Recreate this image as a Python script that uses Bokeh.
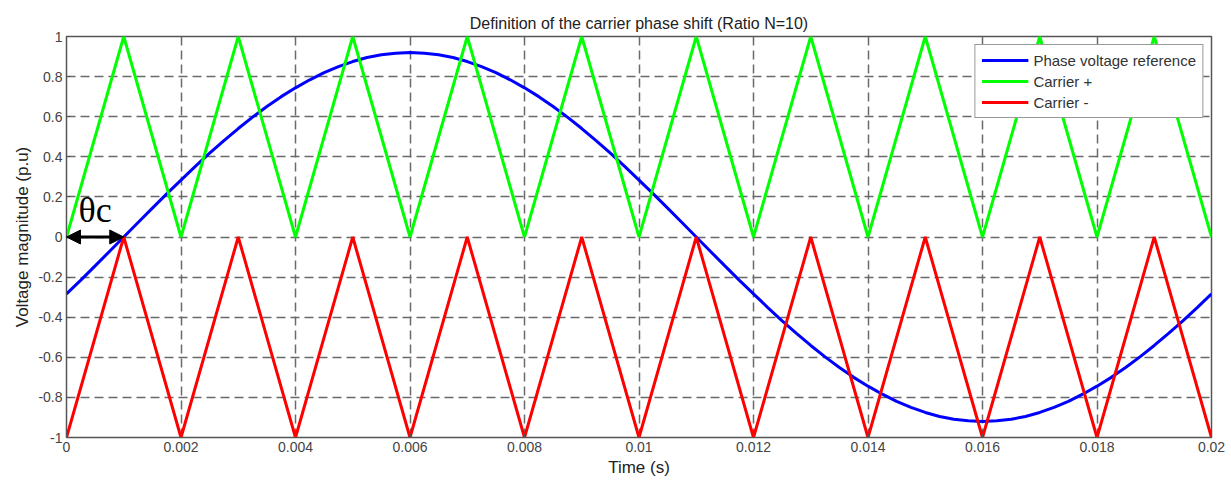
from bokeh.plotting import figure
from bokeh.models import FixedTicker, Legend, LegendItem, Arrow, NormalHead, Label
from bokeh.embed import file_html
from bokeh.resources import INLINE

# ---- data ----
t_ref = [i * 0.00025 for i in range(81)]
v_ref = [-0.284, -0.215, -0.144, -0.072,
         0.0, 0.072, 0.144, 0.215, 0.284, 0.352, 0.418, 0.481, 0.541, 0.598, 0.651,
         0.700, 0.744, 0.784, 0.820, 0.850, 0.875, 0.895, 0.909, 0.917, 0.920,
         0.917, 0.909, 0.895, 0.875, 0.850, 0.820, 0.784, 0.744, 0.700, 0.651,
         0.598, 0.541, 0.481, 0.418, 0.352, 0.284, 0.215, 0.144, 0.072, 0.0,
         -0.072, -0.144, -0.215, -0.284, -0.352, -0.418, -0.481, -0.541, -0.598, -0.651,
         -0.700, -0.744, -0.784, -0.820, -0.850, -0.875, -0.895, -0.909, -0.917, -0.920,
         -0.917, -0.909, -0.895, -0.875, -0.850, -0.820, -0.784, -0.744, -0.700, -0.651,
         -0.598, -0.541, -0.481, -0.418, -0.352, -0.284]
t_car = [0.0, 0.001, 0.002, 0.003, 0.004, 0.005, 0.006, 0.007, 0.008, 0.009, 0.010,
         0.011, 0.012, 0.013, 0.014, 0.015, 0.016, 0.017, 0.018, 0.019, 0.020]
carrier_pos = [0, 1, 0, 1, 0, 1, 0, 1, 0, 1, 0, 1, 0, 1, 0, 1, 0, 1, 0, 1, 0]
carrier_neg = [-1, 0, -1, 0, -1, 0, -1, 0, -1, 0, -1, 0, -1, 0, -1, 0, -1, 0, -1, 0, -1]

x_ticks = [0, 0.002, 0.004, 0.006, 0.008, 0.01, 0.012, 0.014, 0.016, 0.018, 0.02]
x_labels = ["0", "0.002", "0.004", "0.006", "0.008", "0.01", "0.012", "0.014", "0.016", "0.018", "0.02"]
y_ticks = [-1, -0.8, -0.6, -0.4, -0.2, 0, 0.2, 0.4, 0.6, 0.8, 1]
y_labels = ["-1", "-0.8", "-0.6", "-0.4", "-0.2", "0", "0.2", "0.4", "0.6", "0.8", "1"]
series_names = ["Phase voltage reference", "Carrier +", "Carrier -"]
theta_start, theta_end = 0.0, 0.001

FONT = "Liberation Sans"

p = figure(width=1231, height=484, x_range=(0, 0.02), y_range=(-1, 1),
           output_backend="svg", toolbar_location=None,
           min_border_left=66, min_border_right=20, min_border_top=36, min_border_bottom=47,
           title="Definition of the carrier phase shift (Ratio N=10)")
p.title.align = "center"
p.title.text_font = FONT
p.title.text_font_size = "16px"
p.title.text_font_style = "normal"
p.title.text_color = "#222222"
p.title.offset = 0

p.outline_line_color = "#555555"
p.outline_line_width = 1.5

for ax, ticks, labels in ((p.xaxis[0], x_ticks, x_labels), (p.yaxis[0], y_ticks, y_labels)):
    ax.ticker = FixedTicker(ticks=ticks)
    ax.major_label_overrides = {tk: lb for tk, lb in zip(ticks, labels)}
    ax.major_label_text_font = FONT
    ax.major_label_text_font_size = "14px"
    ax.major_label_text_color = "#444444"
    ax.axis_label_text_font = FONT
    ax.axis_label_text_font_size = "17px"
    ax.axis_label_text_font_style = "normal"
    ax.axis_label_text_color = "#222222"
    ax.axis_line_color = "#555555"
    ax.major_tick_in = 4
    ax.major_tick_out = 0
    ax.minor_tick_line_color = None
    ax.major_tick_line_color = "#555555"
    ax.major_label_standoff = 4
    ax.axis_label_standoff = 3

p.xaxis.axis_label = "Time (s)"
p.yaxis.axis_label = "Voltage magnitude (p.u)"

p.xgrid[0].ticker = FixedTicker(ticks=x_ticks)
p.ygrid[0].ticker = FixedTicker(ticks=y_ticks)
for g in (p.xgrid[0], p.ygrid[0]):
    g.grid_line_color = "#6a6a6a"
    g.grid_line_dash = "9 5"
    g.grid_line_width = 1.5

r_ref = p.line(t_ref, v_ref, line_color="#0000FF", line_width=3)
r_pos = p.line(t_car, carrier_pos, line_color="#00FF00", line_width=3)
r_neg = p.line(t_car, carrier_neg, line_color="#FF0000", line_width=3)

legend = Legend(items=[LegendItem(label=series_names[0], renderers=[r_ref]),
                       LegendItem(label=series_names[1], renderers=[r_pos]),
                       LegendItem(label=series_names[2], renderers=[r_neg])],
                location="top_right")
legend.label_text_font = FONT
legend.label_text_font_size = "15px"
legend.label_text_color = "#333333"
legend.glyph_width = 47
legend.glyph_height = 18
legend.label_height = 18
legend.spacing = 3
legend.padding = 6
legend.margin = 8
legend.border_line_color = "#333333"
legend.border_line_width = 1.5
legend.background_fill_alpha = 1
p.add_layout(legend)

arrow = Arrow(x_start=theta_start, y_start=0, x_end=theta_end, y_end=0,
              line_color="black", line_width=3,
              start=NormalHead(size=14, fill_color="black", line_color="black"),
              end=NormalHead(size=14, fill_color="black", line_color="black"))
p.add_layout(arrow)
lbl = Label(x=(theta_start + theta_end) / 2, y=0.035, text="θc", text_align="center",
            text_baseline="bottom", text_font="Liberation Serif", text_font_size="36px",
            text_color="black")
p.add_layout(lbl)

open("out.html", "w").write(file_html(p, INLINE))
